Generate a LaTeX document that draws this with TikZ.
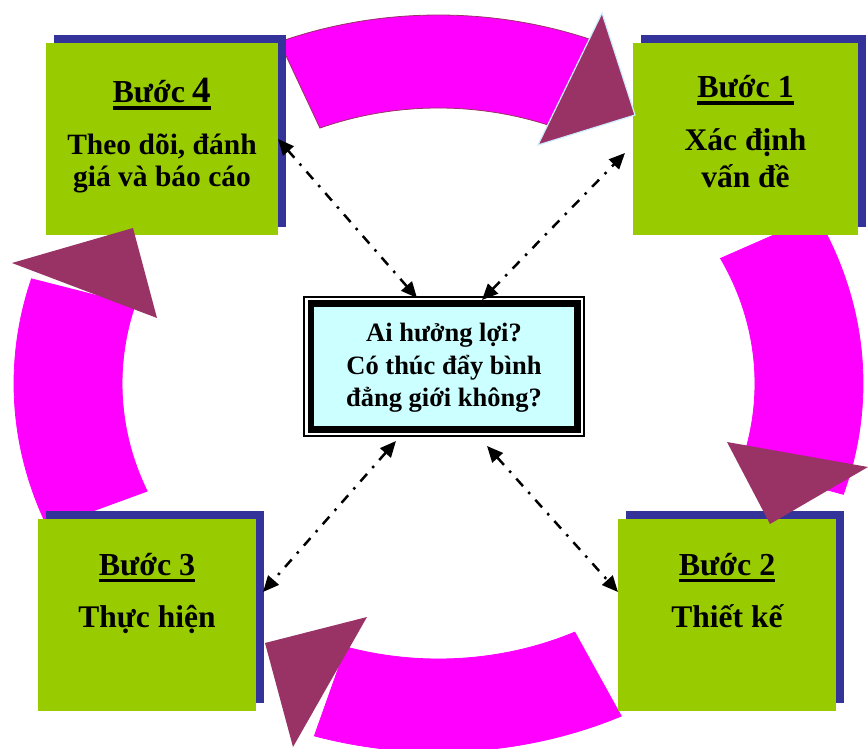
\documentclass[tikz,border=0pt]{standalone}
\usepackage{fontspec}
\setmainfont{Liberation Serif}
\usetikzlibrary{arrows.meta,shadows,calc}
\definecolor{grn}{RGB}{153,204,0}
\definecolor{shd}{RGB}{51,51,153}
\definecolor{mag}{RGB}{255,0,255}
\definecolor{plum}{RGB}{153,51,102}
\definecolor{aqua}{RGB}{204,255,255}
\definecolor{rim}{RGB}{204,236,255}
\newcommand{\stepul}[1]{\setbox0\hbox{#1}\rlap{\rule[-7pt]{\wd0}{3.5pt}}\box0}

\begin{document}
\begin{tikzpicture}[x=1pt,y=1pt,
    stepbox/.style={fill=grn,minimum height=192pt,inner sep=0pt,outer sep=0pt,
                drop shadow={shadow xshift=8pt,shadow yshift=8pt,fill=shd,opacity=1}},
    ttl/.style={anchor=base,inner sep=0pt,font=\fontsize{32}{34}\selectfont\bfseries},
    txt/.style={anchor=base,inner sep=0pt,align=center,font=\fontsize{31.5}{32}\selectfont\bfseries},
    hub/.style={draw,line width=6.5pt,fill=aqua,minimum width=266.5pt,minimum height=126pt,
                inner sep=0pt,outer sep=0pt},
    ask/.style={anchor=base,inner sep=0pt,align=center,
                font=\fontsize{26.5}{32.5}\selectfont\bfseries},
    head/.style={fill=plum},
    arr/.style={{Triangle[length=16pt,width=14pt]}-{Triangle[length=16pt,width=14pt]},
                line width=2.5pt,dash pattern=on 10pt off 8pt on 2.5pt off 8pt}]
  \useasboundingbox (0,0) rectangle (868,748);
  \clip (0,0) rectangle (868,748);
  \coordinate (o) at (438.5,364.5);
  % ring of four bands
  \foreach \a/\b/\c in {112/69/plum,27/-17.5/mag,-64.5/-107/mag,203/163.5/mag}
    \filldraw[fill=mag,draw=\c,line width=0.8pt] ($(o)+(\a:424.5pt and 368.5pt)$)
      arc[start angle=\a,end angle=\b,x radius=424.5pt,y radius=368.5pt]
      -- ($(o)+(\b:316.5pt and 275.5pt)$)
      arc[start angle=\b,end angle=\a,x radius=316.5pt,y radius=275.5pt] -- cycle;
  % steps
  \node[stepbox,minimum width=232pt] (s4) at (162,609) {};
  \node[stepbox,minimum width=225pt] (s1) at (745.5,609) {};
  \node[stepbox,minimum width=218pt] (s3) at (147,133) {};
  \node[stepbox,minimum width=218pt] (s2) at (727,133) {};
  \node[ttl] (t4) at ([yshift=-60pt]s4.north) {\stepul{Bước {\fontsize{37}{37}\selectfont 4}}};
  \node[txt,font=\fontsize{29.5}{32}\selectfont\bfseries] (b4) at ([yshift=-144pt]s4.north)
    {Theo dõi, đánh\\giá và báo cáo};
  \node[ttl] (t1) at ([yshift=-55pt]s1.north) {\stepul{Bước 1}};
  \node[txt] (b1) at ([yshift=-145pt]s1.north) {Xác định\\[5pt]vấn đề};
  \node[ttl] (t3) at ([yshift=-56pt]s3.north) {\stepul{Bước 3}};
  \node[txt] (b3) at ([yshift=-108pt]s3.north) {Thực hiện};
  \node[ttl] (t2) at ([yshift=-56pt]s2.north) {\stepul{Bước 2}};
  \node[txt] (b2) at ([yshift=-108pt]s2.north) {Thiết kế};
  % arrow heads of the ring
  \filldraw[head,draw=rim,line width=1.2pt] (602,735) -- (635,633) -- (538,603) -- cycle;
  \fill[head] (727,306) -- (868,281) -- (770,224) -- cycle;
  \fill[head] (265,105) -- (367,131) -- (293,1) -- cycle;
  \fill[head] (12,485) -- (133,520) -- (157,430) -- cycle;
  % centre question
  \node[hub] (c) at (444,381.5) {};
  \draw[line width=2pt] ([shift={(-6.75,6.75)}]c.north west)
    rectangle ([shift={(6.75,-6.75)}]c.south east);
  \node[ask] (q) at (444,341) {Ai hưởng lợi?\\Có thúc đẩy bình\\đẳng giới không?};
  \draw[arr] ([shift={(-27,5.5)}]c.north) -- (s4.east);
  \draw[arr] ([shift={(38,3.5)}]c.north) -- ([shift={(-8,-14)}]s1.west);
  \draw[arr] ([shift={(-48,-11.5)}]c.south) -- ([shift={(7,23)}]s3.east);
  \draw[arr] ([shift={(43,-16.5)}]c.south) -- ([yshift=23pt]s2.west);
\end{tikzpicture}
\end{document}
